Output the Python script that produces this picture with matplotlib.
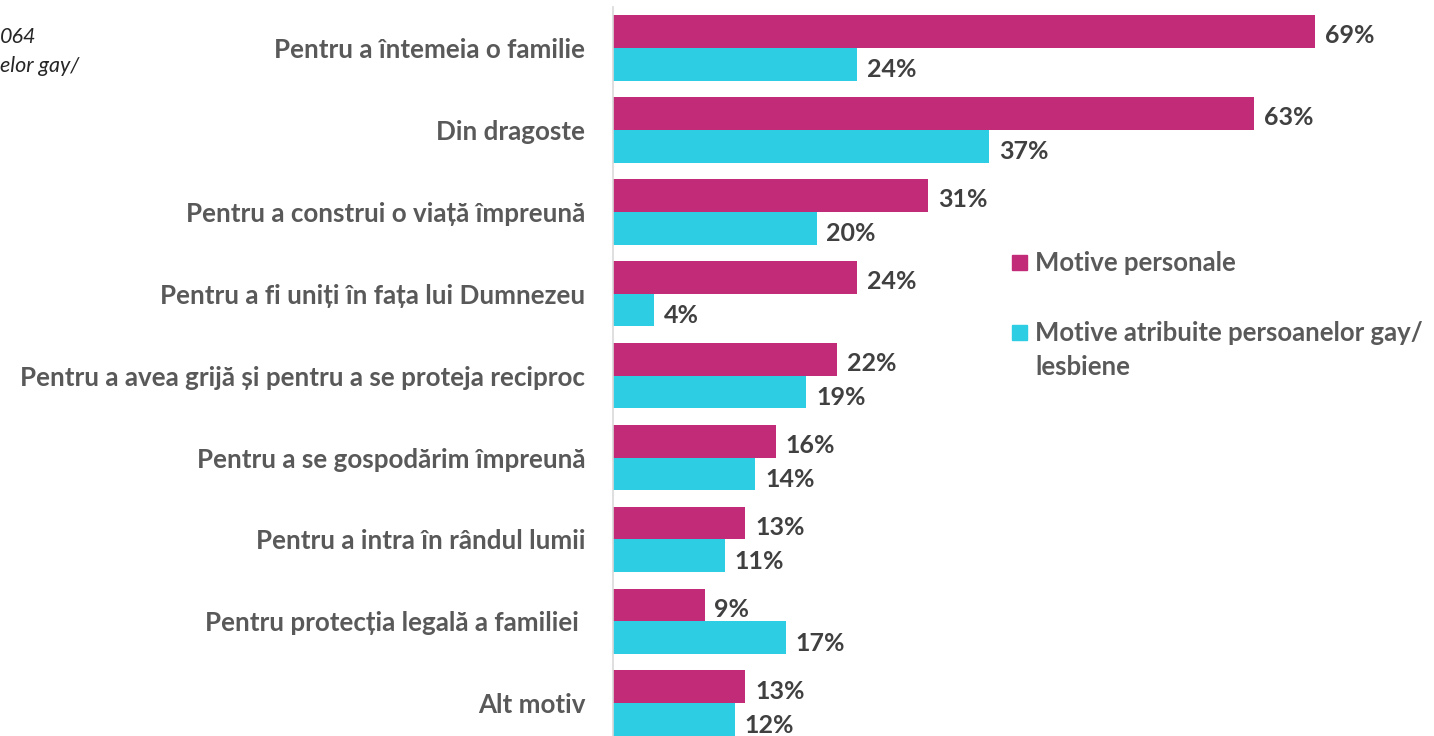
import matplotlib
matplotlib.use("Agg")
import matplotlib.pyplot as plt
import numpy as np

categories = [
    "Pentru a întemeia o familie",
    "Din dragoste",
    "Pentru a construi o viață împreună",
    "Pentru a fi uniți în fața lui Dumnezeu",
    "Pentru a avea grijă și pentru a se proteja reciproc",
    "Pentru a se gospodărim împreună",
    "Pentru a intra în rândul lumii",
    "Pentru protecția legală a familiei ",
    "Alt motiv",
]
personal = [69, 63, 31, 24, 22, 16, 13, 9, 13]
attributed = [24, 37, 20, 4, 19, 14, 11, 17, 12]
series_names = ["Motive personale", "Motive atribuite persoanelor gay/\nlesbiene"]

C_MAG = "#C22B78"
C_CYAN = "#2DCDE3"
C_LABEL = "#595959"
C_VAL = "#404040"

plt.rcParams["font.family"] = ["Lato", "DejaVu Sans"]

W, H = 1434, 736
fig = plt.figure(figsize=(W / 100, H / 100), dpi=100)

x0, x1 = 613, 1427
ax = fig.add_axes([x0 / W, 0, (x1 - x0) / W, 1 - 7 / H])
ax.set_xlim(0, 80)
ax.set_ylim(8.40, -0.5)

y = np.arange(len(categories))
bh = 0.40
ax.barh(y - bh / 2, personal, height=bh, color=C_MAG)
ax.barh(y + bh / 2, attributed, height=bh, color=C_CYAN)

for yi, v in zip(y, personal):
    ax.annotate(f"{v}%", (v, yi - bh / 2), xytext=(7, -3), textcoords="offset points",
                va="center", ha="left", fontsize=18, fontweight="bold", color=C_VAL)
for yi, v in zip(y, attributed):
    ax.annotate(f"{v}%", (v, yi + bh / 2), xytext=(7, -4), textcoords="offset points",
                va="center", ha="left", fontsize=18, fontweight="bold", color=C_VAL)

ax.set_yticks(y)
ax.set_yticklabels(categories, fontsize=18.7, fontweight="bold", color=C_LABEL)
ax.tick_params(axis="y", length=0, pad=20)
ax.set_xticks([])
for s in ["top", "right", "bottom"]:
    ax.spines[s].set_visible(False)
ax.spines["left"].set_color("#D9D9D9")
ax.spines["left"].set_linewidth(1.2)

# legend (manual)
def fx(px):
    return px / W
def fy(py):
    return 1 - py / H

for py, col, name in [(262, C_MAG, series_names[0]), (332, C_CYAN, series_names[1])]:
    fig.patches.append(plt.Rectangle((fx(1012), fy(py + 8)), 15 / W, 15 / H,
                                     transform=fig.transFigure, color=col))
    fig.text(fx(1035), fy(py - 11), name, fontsize=18.5, fontweight="bold",
             color=C_LABEL, ha="left", va="top", linespacing=1.5)

# visible fragments of a note cut off at the left edge
fig.text(fx(0), fy(37), "064", fontsize=15.5, style="italic",
         color="#262626", ha="left", va="center")
fig.text(fx(0), fy(66), "elor gay/", fontsize=15.5, style="italic",
         color="#262626", ha="left", va="center")

fig.savefig("out.png", dpi=100)
